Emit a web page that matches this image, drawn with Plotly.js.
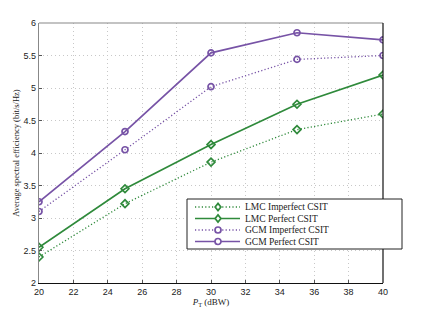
<!DOCTYPE html>
<html><head><meta charset="utf-8">
<script src="https://cdn.plot.ly/plotly-3.0.1.min.js"></script>
<style>html,body{margin:0;padding:0;background:#fff}#chart{width:425px;height:318px}</style>
</head><body><div id="chart"></div>
<script>
const powers = [20, 25, 30, 35, 40];
const lmcImperfect = [2.40, 3.22, 3.86, 4.36, 4.60];
const lmcPerfect = [2.55, 3.45, 4.13, 4.75, 5.20];
const gcmImperfect = [3.10, 4.05, 5.02, 5.44, 5.50];
const gcmPerfect = [3.25, 4.33, 5.54, 5.85, 5.74];
const seriesNames = ['LMC Imperfect CSIT', 'LMC Perfect CSIT', 'GCM Imperfect CSIT', 'GCM Perfect CSIT'];
const xTicks = [20, 22, 24, 26, 28, 30, 32, 34, 36, 38, 40];
const yTicks = [2, 2.5, 3, 3.5, 4, 4.5, 5, 5.5, 6];

const green = '#2f8a3b', purple = '#7753a6';
const dotDash = '1.2px,2.2px';
const styles = [
  {color: green, dash: dotDash, sym: 'diamond', w: 1.3},
  {color: green, dash: 'solid', sym: 'diamond', w: 1.7},
  {color: purple, dash: dotDash, sym: 'circle', w: 1.3},
  {color: purple, dash: 'solid', sym: 'circle', w: 1.7}
];
const values = [lmcImperfect, lmcPerfect, gcmImperfect, gcmPerfect];
const data = values.map((y, i) => ({
  x: powers, y: y, name: seriesNames[i], type: 'scatter', mode: 'lines+markers', showlegend: false,
  line: {color: styles[i].color, width: styles[i].w, dash: styles[i].dash},
  marker: {symbol: styles[i].sym + '-open', size: 6, color: styles[i].color, line: {color: styles[i].color, width: 1.7}}
}));

// plot area in pixels
const L = 39, T = 23, W = 344, H = 260;
const px = x => (x - L) / W, py = y => (T + H - y) / H;

const shapes = [
  {type: 'line', xref: 'paper', yref: 'paper', x0: 0, x1: 1, y0: 1, y1: 1, line: {color: '#888', width: 1.2}},
  {type: 'line', xref: 'paper', yref: 'paper', x0: 1, x1: 1, y0: 0, y1: 1, line: {color: '#111', width: 1.2}},
  // legend box
  {type: 'rect', xref: 'paper', yref: 'paper', x0: px(187), x1: px(402), y0: py(249), y1: py(199),
   fillcolor: '#fff', line: {color: '#222', width: 1}, layer: 'above'}
];
const annotations = [];
const rowY = [207, 218.5, 230, 241.5];
seriesNames.forEach((n, i) => {
  const s = styles[i], yy = rowY[i];
  shapes.push({type: 'line', xref: 'paper', yref: 'paper', x0: px(195), x1: px(240), y0: py(yy), y1: py(yy),
    line: {color: s.color, width: s.w, dash: s.dash}, layer: 'above'});
  const cx = 218, r = 3;
  if (s.sym === 'circle') {
    shapes.push({type: 'circle', xref: 'paper', yref: 'paper', x0: px(cx - r), x1: px(cx + r), y0: py(yy + r), y1: py(yy - r),
      fillcolor: '#fff', line: {color: s.color, width: 1.7}, layer: 'above'});
  } else {
    const d = 3.6;
    const p = `M ${px(cx)},${py(yy - d)} L ${px(cx + d * 0.8)},${py(yy)} L ${px(cx)},${py(yy + d)} L ${px(cx - d * 0.8)},${py(yy)} Z`;
    shapes.push({type: 'path', xref: 'paper', yref: 'paper', path: p, fillcolor: '#fff',
      line: {color: s.color, width: 1.7}, layer: 'above'});
  }
  annotations.push({xref: 'paper', yref: 'paper', x: px(243), y: py(yy), xanchor: 'left', yanchor: 'middle',
    text: n, showarrow: false, font: {family: 'Liberation Serif, serif', size: 9.5, color: '#222'}});
});

const grid = {showgrid: true, gridcolor: '#c8c8c8', griddash: '1px,3px', gridwidth: 1};
const layout = {
  width: 425, height: 318, margin: {l: L, r: 425 - L - W, t: T, b: 318 - T - H},
  paper_bgcolor: '#fff', plot_bgcolor: '#fff', showlegend: false,
  font: {family: 'Liberation Sans, Arial, sans-serif', size: 9, color: '#222'},
  xaxis: Object.assign({range: [20, 40], tickvals: xTicks, ticktext: xTicks.map(String),
    ticks: 'inside', ticklen: 3, tickcolor: '#555', showline: true, linecolor: '#111', linewidth: 1.2,
    zeroline: false,
    title: {text: '<i>P</i><sub>T</sub> (dBW)', font: {family: 'Liberation Serif, serif', size: 9}, standoff: 2}}, grid),
  yaxis: Object.assign({range: [2, 6], tickvals: yTicks, ticktext: yTicks.map(String),
    ticks: 'inside', ticklen: 3, tickcolor: '#555', showline: true, linecolor: '#888', linewidth: 1.2,
    zeroline: false,
    title: {text: 'Average spectral efficiency (bit/s/Hz)', font: {family: 'Liberation Serif, serif', size: 8.5}, standoff: 2}}, grid),
  shapes: shapes,
  annotations: annotations
};
Plotly.newPlot('chart', data, layout, {displayModeBar: false, staticPlot: true});
</script></body></html>
